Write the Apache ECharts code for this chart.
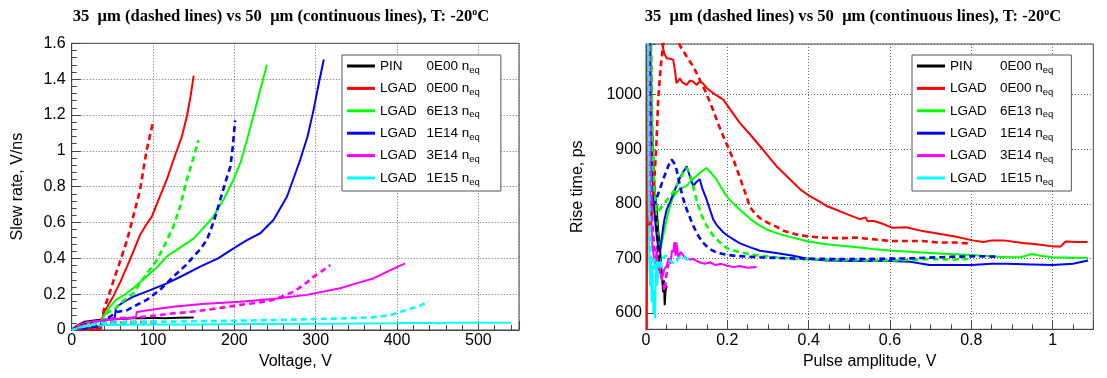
<!DOCTYPE html>
<html>
<head>
<meta charset="utf-8">
<script src="https://cdn.jsdelivr.net/npm/echarts@6/dist/echarts.min.js"></script>
<style>
html,body{margin:0;padding:0;background:#fff;}
#c{width:1107px;height:378px;}
</style>
</head>
<body>
<div id="c"></div>
<script>
// ---------- legend / series identity ----------
const legendNames = ['PIN 0E00', 'LGAD 0E00', 'LGAD 6E13', 'LGAD 1E14', 'LGAD 3E14', 'LGAD 1E15'];
const colors = ['#000000', '#ff0000', '#00ff00', '#0000ff', '#ff00ff', '#00ffff'];
const titleText = '35  μm (dashed lines) vs 50  μm (continuous lines), T: -20{s|o}C';

// ---------- left chart: slew rate (V/ns) vs Voltage (V) ----------
// 50 um (continuous)
const slewPin50 = [[0,0],[3,0.012],[6,0.022],[10,0.033],[16,0.046],[25,0.052],[33,0.056],[45,0.058],[60,0.062],[75,0.066],[90,0.066],[100,0.068],[115,0.066],[130,0.069],[150,0.07]];
const slewL0_50 = [[5,0],[15,0.003],[25,0.004],[36,0.006],[38,0.06],[39,0.093],[45,0.14],[51,0.186],[60,0.27],[68,0.354],[76,0.44],[84,0.53],[92,0.59],[98.5,0.633],[108,0.74],[117,0.84],[126,0.96],[135.5,1.08],[142,1.2],[146,1.3],[150,1.42]];
const slewL6e13_50 = [[0,0],[5,0.012],[12,0.025],[20,0.035],[30,0.045],[38,0.05],[39,0.074],[47,0.13],[55,0.17],[67.7,0.205],[80,0.25],[96.4,0.317],[105,0.35],[117,0.41],[130,0.45],[149.8,0.51],[160,0.56],[174.4,0.633],[187,0.73],[199,0.84],[208,0.94],[215.5,1.06],[225,1.22],[233,1.36],[240,1.48]];
const slewL1e14_50 = [[0,0],[8,0.006],[16,0.01],[25,0.015],[33,0.018],[38,0.04],[41,0.056],[48,0.062],[53,0.068],[54,0.11],[55.4,0.13],[65,0.16],[75.9,0.186],[95,0.22],[117,0.26],[135,0.3],[158,0.354],[180,0.4],[199,0.456],[215,0.5],[231.9,0.54],[248.3,0.615],[264.8,0.745],[281,0.95],[290,1.08],[297.5,1.23],[304,1.38],[310,1.51]];
const slewL3e14_50 = [[0,0],[4,0.015],[10,0.03],[20,0.045],[30,0.05],[40,0.055],[60,0.063],[79,0.07],[80,0.1],[82,0.108],[100,0.115],[125,0.13],[160,0.145],[207,0.158],[250,0.175],[289,0.196],[330,0.233],[350,0.26],[371.5,0.289],[390,0.33],[410,0.372]];
const slewL1e15_50 = [[0,0],[5,0.006],[10,0.012],[20,0.02],[30,0.025],[43,0.028],[100,0.03],[150,0.031],[207,0.033],[260,0.034],[300,0.035],[350,0.036],[400,0.038],[440,0.04],[450,0.036],[460,0.04],[500,0.041],[540,0.041]];
// 35 um (dashed)
const slewPin35 = [[0,0],[5,0.012],[12,0.025],[20,0.034],[35,0.04],[50,0.042],[70,0.044],[90,0.045],[105,0.045]];
const slewL0_35 = [[5,0],[15,0.002],[25,0.004],[35,0.006],[37,0.06],[40,0.12],[46,0.2],[51,0.27],[60,0.39],[68,0.5],[76,0.64],[84,0.78],[92,1.0],[97,1.1],[100.5,1.17]];
const slewL6e13_35 = [[0,0],[8,0.005],[18,0.015],[28,0.03],[37,0.05],[40,0.08],[45,0.1],[51.3,0.11],[60,0.15],[75.9,0.205],[90,0.3],[104.7,0.39],[115,0.48],[125,0.577],[134,0.7],[141.6,0.84],[149,0.95],[156,1.06]];
const slewL1e14_35 = [[0,0],[10,0.004],[20,0.01],[30,0.02],[36,0.03],[40,0.055],[47,0.074],[55,0.1],[67.7,0.11],[80,0.14],[92.3,0.168],[110,0.23],[125,0.298],[140,0.36],[149.8,0.41],[158,0.45],[166.3,0.503],[175,0.61],[182.6,0.726],[190,0.84],[195,0.91],[198,1.02],[201,1.17]];
const slewL3e14_35 = [[0,0],[6,0.01],[15,0.025],[30,0.04],[43,0.06],[60,0.066],[84,0.071],[105,0.082],[125,0.093],[145,0.1],[166,0.112],[185,0.125],[207,0.14],[230,0.153],[248,0.168],[260,0.19],[273,0.214],[285,0.25],[297.6,0.298],[308,0.33],[318,0.363]];
const slewL1e15_35 = [[0,0],[8,0.01],[20,0.025],[30,0.035],[43,0.041],[80,0.044],[125,0.047],[170,0.05],[207,0.052],[250,0.056],[289,0.06],[330,0.064],[371,0.071],[392,0.084],[412.5,0.112],[428,0.135],[439,0.158]];

// ---------- right chart: rise time (ps) vs pulse amplitude (V) ----------
const risePin50 = [[0.008,1200],[0.012,1000],[0.015,900],[0.018,845],[0.022,820],[0.026,796],[0.03,750],[0.034,723],[0.038,680],[0.042,638],[0.044,660],[0.046,614],[0.048,640],[0.051,650]];
const riseL0_50 = [[0.002,560],[0.004,1200],[0.036,1200],[0.04,1093],[0.045,1075],[0.051,1067],[0.06,1066],[0.067,1064],[0.072,1040],[0.075,1021],[0.083,1030],[0.09,1022],[0.1,1018],[0.108,1026],[0.116,1024],[0.125,1018],[0.132,1025],[0.14,1021],[0.15,1012],[0.165,1003],[0.19,991],[0.21,970],[0.231,948],[0.255,928],[0.28,906],[0.3,888],[0.321,869],[0.34,855],[0.362,839],[0.38,826],[0.403,814],[0.425,805],[0.444,796],[0.465,790],[0.485,784],[0.505,778],[0.526,772],[0.54,775],[0.545,768],[0.558,769],[0.58,764],[0.607,756],[0.64,757],[0.68,750],[0.72,745],[0.76,740],[0.803,733],[0.83,730],[0.85,733],[0.88,733],[0.926,728],[0.96,726],[1.0,722],[1.02,722],[1.032,731],[1.06,730],[1.086,730]];
const riseL6e13_50 = [[0.01,1200],[0.015,950],[0.02,850],[0.025,780],[0.03,735],[0.034,711],[0.045,750],[0.055,785],[0.065,810],[0.075,821],[0.085,828],[0.1,833],[0.115,845],[0.13,855],[0.149,866],[0.16,857],[0.173,845],[0.185,830],[0.198,814],[0.215,800],[0.239,784],[0.26,770],[0.28,760],[0.3,752],[0.33,744],[0.362,738],[0.4,731],[0.444,726],[0.48,723],[0.526,720],[0.558,717],[0.607,714],[0.65,712],[0.72,709],[0.8,706],[0.886,702],[0.92,702],[0.95,708],[0.97,705],[1.0,702],[1.05,701],[1.086,701]];
const riseL1e14_50 = [[0.008,1200],[0.012,950],[0.016,850],[0.02,790],[0.025,750],[0.03,720],[0.034,711],[0.04,745],[0.045,770],[0.051,790],[0.06,805],[0.068,820],[0.075,833],[0.085,850],[0.1,869],[0.108,850],[0.116,833],[0.124,840],[0.132,845],[0.14,825],[0.149,808],[0.157,790],[0.165,772],[0.175,760],[0.19,748],[0.2,742],[0.215,735],[0.23,728],[0.247,723],[0.265,718],[0.28,714],[0.32,710],[0.362,705],[0.4,699],[0.444,696],[0.52,695],[0.6,695],[0.65,694],[0.697,688],[0.75,688],[0.8,688],[0.85,690],[0.886,690],[0.95,689],[1.0,688],[1.05,690],[1.087,696]];
const riseL3e14_50 = [[0.006,1200],[0.009,900],[0.012,780],[0.016,720],[0.02,700],[0.024,680],[0.026,723],[0.03,690],[0.034,675],[0.04,665],[0.045,680],[0.051,687],[0.056,700],[0.06,690],[0.064,715],[0.067,711],[0.07,730],[0.073,705],[0.075,729],[0.08,700],[0.085,712],[0.092,705],[0.1,700],[0.108,698],[0.116,699],[0.13,693],[0.145,690],[0.157,693],[0.17,688],[0.185,690],[0.198,687],[0.215,684],[0.23,686],[0.25,683],[0.272,684]];
const riseL1e15_50 = [[0.004,1200],[0.006,850],[0.008,700],[0.01,650],[0.012,700],[0.014,620],[0.016,680],[0.018,600],[0.02,640],[0.022,590],[0.024,660],[0.026,700],[0.028,650],[0.03,690],[0.034,700],[0.038,690]];
const risePin35 = [[0.01,1200],[0.014,950],[0.018,860],[0.022,800],[0.026,760],[0.03,720],[0.033,690]];
const riseL0_35 = [[0.004,1200],[0.008,760],[0.014,780],[0.02,840],[0.025,900],[0.03,990],[0.036,1050],[0.042,1090],[0.05,1140],[0.065,1140],[0.083,1091],[0.1,1070],[0.116,1052],[0.132,1028],[0.148,1003],[0.165,972],[0.18,942],[0.198,910],[0.215,881],[0.23,850],[0.247,814],[0.255,795],[0.265,785],[0.28,774],[0.3,765],[0.321,758],[0.34,750],[0.37,744],[0.4,740],[0.435,738],[0.48,737],[0.517,738],[0.56,735],[0.6,732],[0.68,732],[0.72,729],[0.762,729],[0.8,727]];
const riseL6e13_35 = [[0.01,1200],[0.016,900],[0.02,830],[0.026,784],[0.034,790],[0.042,798],[0.055,810],[0.067,821],[0.08,840],[0.09,855],[0.1,866],[0.11,850],[0.124,808],[0.136,780],[0.149,760],[0.165,742],[0.182,729],[0.2,718],[0.231,711],[0.26,707],[0.28,705],[0.32,702],[0.362,699],[0.42,698],[0.5,697],[0.58,696],[0.65,697],[0.7,699],[0.75,698],[0.795,699]];
const riseL1e14_35 = [[0.006,1200],[0.01,900],[0.014,820],[0.018,796],[0.026,810],[0.034,827],[0.045,850],[0.055,870],[0.063,881],[0.069,875],[0.075,863],[0.083,835],[0.092,808],[0.1,790],[0.108,775],[0.116,760],[0.128,742],[0.14,729],[0.155,718],[0.173,711],[0.195,707],[0.215,705],[0.25,703],[0.28,702],[0.35,700],[0.45,699],[0.55,699],[0.65,700],[0.75,703],[0.82,704],[0.869,703]];
const riseL3e14_35 = [[0.008,1200],[0.012,850],[0.016,760],[0.02,720],[0.025,705],[0.03,690],[0.036,670],[0.042,655],[0.046,640],[0.05,670],[0.055,690]];
const riseL1e15_35 = [[0.005,1200],[0.008,800],[0.012,700],[0.016,680],[0.02,700],[0.025,660],[0.03,690],[0.035,680],[0.04,700],[0.05,705],[0.06,695],[0.07,690],[0.08,700],[0.09,705],[0.1,698],[0.108,700]];

const slew50 = [slewPin50, slewL0_50, slewL6e13_50, slewL1e14_50, slewL3e14_50, slewL1e15_50];
const slew35 = [slewPin35, slewL0_35, slewL6e13_35, slewL1e14_35, slewL3e14_35, slewL1e15_35];
const rise50 = [risePin50, riseL0_50, riseL6e13_50, riseL1e14_50, riseL3e14_50, riseL1e15_50];
const rise35 = [risePin35, riseL0_35, riseL6e13_35, riseL1e14_35, riseL3e14_35, riseL1e15_35];

// ---------- build ----------
const FONT = "'Liberation Sans', Arial, sans-serif";
function mk(name, data, i, dashed, gi) {
  return {
    type: 'line', name: name, data: data, xAxisIndex: gi, yAxisIndex: gi,
    showSymbol: false, symbol: 'none', clip: true, animation: false,
    z: dashed ? 3 : 2,
    lineStyle: { color: colors[i], width: dashed ? 2.6 : 2, type: dashed ? [6, 4] : 'solid' },
    itemStyle: { color: colors[i] },
    emphasis: { disabled: true }
  };
}
const series = [];
for (let i = 0; i < 6; i++) series.push(mk(legendNames[i], slew50[i], i, false, 0));
for (let i = 0; i < 6; i++) series.push(mk(legendNames[i], rise50[i], i, false, 1));
for (let i = 0; i < 6; i++) series.push(mk(legendNames[i], slew35[i], i, true, 0));
for (let i = 0; i < 6; i++) series.push(mk(legendNames[i], rise35[i], i, true, 1));

function legendFmt(name) {
  const p = name.split(' ');
  return '{a|' + p[0] + '}{b|' + p[1] + ' n}{s|eq}';
}
function legendRich(aw) {
  return {
    a: { width: aw, fontSize: 13.5, lineHeight: 14, fontFamily: FONT, color: '#000' },
    b: { fontSize: 13.5, lineHeight: 14, fontFamily: FONT, color: '#000' },
    s: { fontSize: 9.5, lineHeight: 6, padding: [8, 0, 0, 0], fontFamily: FONT, color: '#000' }
  };
}
function mkLegend(left, aw, padR) {
  return {
    left: left, top: 55, orient: 'vertical',
    data: legendNames.map(n => ({ name: n, icon: 'rect' })),
    itemWidth: 28, itemHeight: 3, itemGap: 4.4,
    padding: [2, padR, 4, 5],
    backgroundColor: '#fff', borderColor: '#555', borderWidth: 1, borderRadius: 0,
    selectedMode: false,
    itemStyle: { borderWidth: 0 },
    lineStyle: { width: 0, opacity: 0 },
    formatter: legendFmt,
    textStyle: { rich: legendRich(aw), color: '#000' }
  };
}
function mkTitle(cx) {
  return {
    text: titleText, left: cx, top: 3, textAlign: 'center',
    textStyle: {
      fontFamily: "'Liberation Serif', 'Times New Roman', serif", fontWeight: 'bold', fontSize: 16.6, color: '#000', lineHeight: 18,
      rich: { s: { fontFamily: "'Liberation Serif', serif", fontWeight: 'bold', fontSize: 10, lineHeight: 8, padding: [0, 0, 10, 0], color: '#000' } }
    }
  };
}
const axisLineStyle = { lineStyle: { color: '#444', width: 1 } };
const splitStyle = { show: true, lineStyle: { color: '#666', width: 1, type: [1, 2] } };
function lbl(extra) {
  return Object.assign({ color: '#000', fontSize: 16, fontFamily: FONT }, extra);
}

const option = {
  animation: false,
  backgroundColor: '#fff',
  title: [mkTitle(276), mkTitle(848)],
  legend: [mkLegend(342, 46.5, 21), mkLegend(912, 50, 18)],
  grid: [
    { left: 71.7, top: 43.3, width: 447.3, height: 286.7, show: true, borderColor: '#444', borderWidth: 1, backgroundColor: 'transparent', outerBoundsMode: 'none', containLabel: false },
    { left: 646, top: 44, width: 447.3, height: 285.3, show: true, borderColor: '#444', borderWidth: 1, backgroundColor: 'transparent', outerBoundsMode: 'none', containLabel: false }
  ],
  xAxis: [
    { type: 'value', gridIndex: 0, min: 0, max: 550, interval: 100,
      name: 'Voltage, V', nameLocation: 'middle', nameGap: 20,
      nameTextStyle: { color: '#000', fontSize: 16, fontFamily: FONT },
      axisLine: axisLineStyle, axisTick: { inside: true, length: 9, lineStyle: { color: '#444' } },
      minorTick: { show: true, splitNumber: 5, length: 5, lineStyle: { color: '#444' } },
      axisLabel: lbl({ margin: 3, formatter: v => (v % 100 === 0 ? String(v) : '') }),
      splitLine: splitStyle },
    { type: 'value', gridIndex: 1, min: 0, max: 1.1, interval: 0.2,
      name: 'Pulse amplitude, V', nameLocation: 'middle', nameGap: 20,
      nameTextStyle: { color: '#000', fontSize: 16, fontFamily: FONT },
      axisLine: axisLineStyle, axisTick: { inside: true, length: 9, lineStyle: { color: '#444' } },
      minorTick: { show: true, splitNumber: 4, length: 5, lineStyle: { color: '#444' } },
      axisLabel: lbl({ margin: 3, formatter: v => (Math.abs(v * 5 - Math.round(v * 5)) < 1e-6 ? String(Math.round(v * 10) / 10) : '') }),
      splitLine: splitStyle }
  ],
  yAxis: [
    { type: 'value', gridIndex: 0, min: 0, max: 1.6, interval: 0.2,
      name: 'Slew rate, V/ns', nameLocation: 'middle', nameGap: 46,
      nameTextStyle: { color: '#000', fontSize: 16, fontFamily: FONT },
      axisLine: axisLineStyle, axisTick: { inside: true, length: 9, lineStyle: { color: '#444' } },
      minorTick: { show: true, splitNumber: 5, length: 5, lineStyle: { color: '#444' } },
      axisLabel: lbl({ margin: 6, formatter: v => String(Math.round(v * 10) / 10) }),
      splitLine: splitStyle },
    { type: 'value', gridIndex: 1, min: 570, max: 1093, splitNumber: 5,
      name: 'Rise time, ps', nameLocation: 'middle', nameGap: 60,
      nameTextStyle: { color: '#000', fontSize: 16, fontFamily: FONT },
      axisLine: axisLineStyle, axisTick: { inside: true, length: 9, lineStyle: { color: '#444' } },
      axisLabel: lbl({ margin: 4, formatter: v => (v % 100 === 0 ? String(v) : '') }),
      splitLine: splitStyle }
  ],
  series: series
};

const chart = echarts.init(document.getElementById('c'), null, { renderer: 'canvas' });
chart.setOption(option);
</script>
</body>
</html>
